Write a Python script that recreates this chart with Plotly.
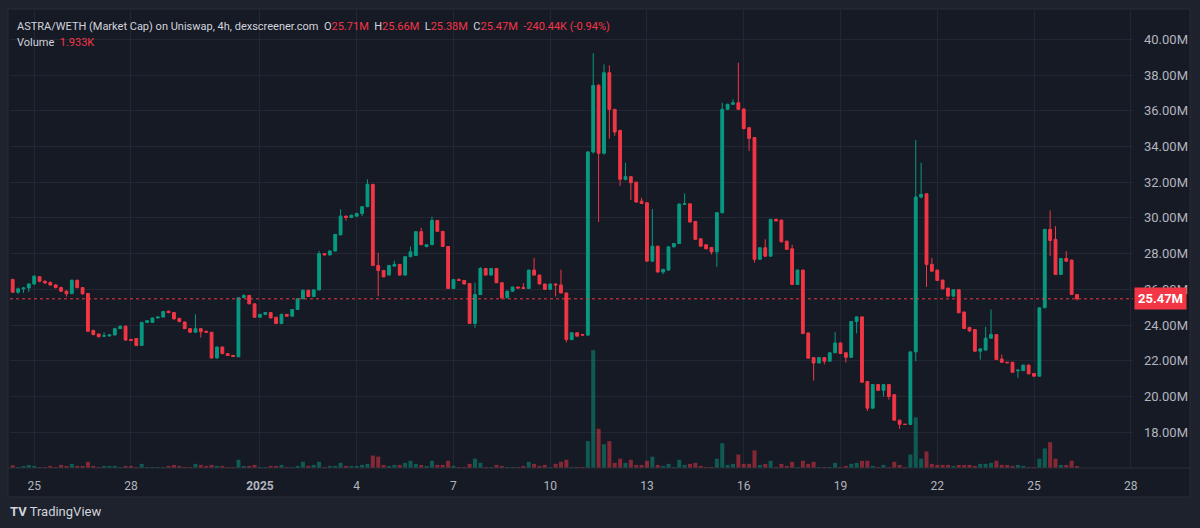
import pandas as pd
import plotly.graph_objects as go

# 4h candles, ASTRA/WETH market cap (millions)
opens = [
    26.55, 25.84, 26.03, 26.08, 26.30, 26.71, 26.45, 26.38, 26.25, 26.10,
    25.90, 25.77, 26.51, 26.10, 25.77, 23.70, 23.50, 23.38, 23.40, 23.45,
    23.80, 23.94, 23.20, 23.25, 22.86, 24.15, 24.15, 24.40, 24.45, 24.78,
    24.70, 24.38, 24.17, 23.80, 23.60, 23.80, 23.65, 23.60, 22.16, 22.77,
    22.40, 22.30, 22.23, 25.55, 25.66, 25.19, 24.44, 24.60, 24.70, 24.44,
    24.09, 24.60, 24.50, 24.87, 25.47, 25.95, 25.60, 25.97, 28.00, 27.93,
    28.15, 29.05, 30.10, 30.02, 30.10, 30.25, 30.63, 31.88, 27.34, 27.06,
    26.80, 27.30, 27.40, 26.80, 27.83, 27.90, 29.23, 28.40, 28.50, 29.86,
    29.25, 28.40, 26.05, 26.55, 26.50, 26.33, 24.09, 25.71, 27.17, 26.80,
    27.17, 26.37, 25.53, 25.90, 26.13, 26.10, 26.05, 27.08, 26.80, 26.30,
    26.00, 26.30, 26.25, 25.80, 23.19, 23.57, 23.47, 23.44, 33.69, 37.42,
    33.62, 38.13, 36.08, 34.90, 32.16, 32.31, 32.00, 30.94, 30.85, 27.58,
    28.42, 26.97, 27.08, 28.38, 28.57, 30.76, 30.79, 29.80, 28.83, 28.50,
    28.35, 28.10, 30.29, 36.08, 36.36, 36.45, 36.10, 35.05, 34.50, 27.68,
    28.33, 27.86, 29.92, 29.88, 28.70, 28.27, 26.27, 27.08, 23.56, 22.18,
    21.88, 22.18, 21.98, 22.45, 23.00, 22.45, 22.20, 24.20, 24.46, 20.84,
    19.35, 20.67, 20.35, 20.67, 20.10, 18.68, 18.45, 18.44, 22.50, 31.17,
    31.35, 27.40, 27.08, 26.52, 26.07, 25.62, 25.98, 24.73, 23.87, 23.75,
    22.54, 22.60, 23.27, 23.47, 22.10, 21.92, 21.92, 21.45, 21.45, 21.76,
    21.29, 21.14, 24.97, 29.36, 28.80, 26.83, 27.73, 27.64, 25.71,
]
highs = [
    26.60, 26.10, 26.12, 26.35, 26.80, 26.74, 26.52, 26.45, 26.30, 26.15,
    25.95, 26.55, 26.55, 26.12, 25.80, 23.75, 23.52, 23.60, 23.48, 23.85,
    24.00, 23.97, 23.22, 23.27, 24.18, 24.27, 24.42, 24.48, 24.80, 24.80,
    24.72, 24.40, 24.20, 23.82, 24.60, 23.82, 23.70, 23.62, 22.80, 22.80,
    22.42, 22.32, 25.56, 25.72, 25.68, 25.21, 24.63, 24.72, 24.72, 24.46,
    24.65, 24.62, 24.90, 25.50, 25.98, 25.97, 26.00, 28.14, 28.02, 28.18,
    29.10, 30.48, 30.12, 30.18, 30.28, 30.66, 32.16, 31.90, 28.05, 27.08,
    27.36, 27.60, 27.42, 27.86, 28.40, 29.26, 29.45, 28.52, 30.07, 29.88,
    29.27, 28.42, 26.58, 26.62, 26.52, 26.35, 26.37, 27.25, 27.19, 27.19,
    27.19, 26.39, 25.92, 26.15, 26.15, 26.35, 27.10, 27.77, 26.82, 26.32,
    26.32, 26.32, 27.10, 25.82, 23.59, 23.59, 23.49, 33.75, 39.22, 37.50,
    38.60, 38.54, 36.10, 34.92, 33.09, 32.35, 32.02, 31.13, 30.87, 30.50,
    28.44, 27.15, 28.40, 28.60, 30.80, 31.37, 30.81, 29.82, 28.85, 28.52,
    28.37, 30.32, 36.45, 36.40, 36.64, 38.69, 36.12, 35.07, 34.52, 28.36,
    28.80, 29.95, 29.95, 29.90, 28.72, 28.50, 27.10, 27.10, 23.58, 22.20,
    22.20, 22.20, 22.47, 23.60, 23.02, 22.47, 24.22, 24.48, 24.48, 20.86,
    20.69, 20.69, 20.69, 20.69, 20.12, 18.70, 18.47, 22.52, 34.36, 33.09,
    31.37, 27.77, 27.10, 26.54, 26.09, 26.00, 26.00, 24.75, 23.89, 23.77,
    22.69, 23.90, 24.87, 23.49, 22.35, 21.94, 21.94, 21.50, 21.78, 21.78,
    21.31, 24.99, 29.38, 30.42, 29.54, 27.75, 28.14, 27.66, 25.73,
]
lows = [
    25.80, 25.75, 25.80, 25.85, 26.25, 26.40, 26.30, 26.20, 26.05, 25.85,
    25.60, 25.72, 26.05, 25.70, 23.60, 23.42, 23.30, 23.33, 23.35, 23.42,
    23.78, 23.12, 23.10, 22.82, 22.84, 24.12, 24.12, 24.37, 24.43, 24.66,
    24.30, 24.15, 23.78, 23.57, 23.58, 23.30, 23.58, 22.12, 22.13, 22.38,
    22.27, 22.22, 22.20, 25.52, 25.17, 24.42, 24.42, 24.58, 24.38, 24.05,
    24.05, 24.47, 24.47, 24.85, 25.45, 25.58, 25.57, 25.95, 27.90, 27.90,
    28.12, 29.03, 29.85, 30.00, 30.08, 30.10, 30.60, 27.30, 25.62, 26.68,
    26.78, 27.28, 26.78, 26.78, 27.80, 27.88, 28.48, 28.35, 28.48, 29.22,
    28.38, 26.02, 26.03, 26.48, 26.28, 24.07, 23.85, 25.69, 26.78, 26.78,
    26.35, 25.45, 25.50, 25.88, 26.05, 26.03, 26.03, 26.78, 26.28, 25.98,
    25.98, 25.60, 25.78, 23.04, 23.15, 23.36, 23.42, 23.40, 33.60, 29.77,
    33.55, 34.44, 34.60, 31.80, 32.10, 31.00, 30.85, 30.78, 27.55, 27.55,
    26.95, 26.85, 27.05, 28.35, 28.55, 30.72, 29.75, 28.78, 28.40, 28.25,
    27.95, 27.26, 30.25, 36.05, 36.33, 36.05, 34.95, 33.75, 27.50, 27.65,
    27.80, 27.84, 29.80, 28.64, 28.22, 26.25, 26.25, 23.51, 22.13, 20.90,
    21.86, 21.80, 21.96, 22.43, 22.39, 21.90, 22.18, 23.53, 20.78, 19.18,
    19.33, 20.33, 20.00, 19.82, 18.66, 18.20, 18.42, 18.42, 21.98, 31.10,
    26.14, 27.00, 26.48, 26.01, 25.60, 25.60, 24.67, 23.79, 23.60, 22.52,
    22.07, 22.58, 23.25, 22.05, 21.90, 21.87, 21.34, 21.05, 21.43, 21.25,
    21.12, 21.12, 24.95, 27.86, 26.81, 26.81, 27.55, 25.69, 25.38,
]
closes = [
    25.84, 26.03, 26.08, 26.30, 26.74, 26.45, 26.36, 26.25, 26.10, 25.90,
    25.75, 26.51, 26.10, 25.75, 23.66, 23.47, 23.35, 23.40, 23.45, 23.80,
    23.93, 23.16, 23.14, 22.86, 24.15, 24.25, 24.40, 24.45, 24.76, 24.70,
    24.35, 24.20, 23.80, 23.60, 23.80, 23.63, 23.60, 22.16, 22.77, 22.40,
    22.30, 22.25, 25.53, 25.66, 25.19, 24.44, 24.60, 24.70, 24.40, 24.09,
    24.60, 24.50, 24.87, 25.47, 25.95, 25.60, 25.97, 28.00, 27.93, 28.15,
    29.08, 30.10, 30.02, 30.15, 30.25, 30.63, 31.88, 27.34, 27.06, 26.70,
    27.34, 27.40, 26.80, 27.83, 28.10, 29.23, 28.50, 28.50, 29.86, 29.25,
    28.40, 26.05, 26.55, 26.50, 26.30, 24.09, 25.71, 27.17, 26.80, 27.17,
    26.37, 25.53, 25.90, 26.13, 26.08, 26.05, 27.08, 26.80, 26.30, 26.00,
    26.30, 26.25, 25.80, 23.19, 23.57, 23.38, 23.44, 33.69, 37.42, 33.62,
    38.13, 36.08, 34.81, 32.16, 32.31, 31.97, 30.89, 30.81, 27.58, 28.42,
    26.97, 27.12, 28.38, 28.57, 30.78, 30.79, 29.77, 28.80, 28.42, 28.27,
    28.10, 30.29, 36.08, 36.36, 36.45, 36.08, 35.00, 34.45, 27.68, 28.33,
    27.86, 29.92, 29.83, 28.66, 28.24, 26.27, 27.08, 23.53, 22.15, 21.88,
    22.18, 21.98, 22.45, 23.00, 22.41, 22.20, 24.20, 24.46, 20.80, 19.35,
    20.67, 20.35, 20.67, 20.00, 18.68, 18.45, 18.44, 22.50, 31.17, 31.32,
    27.40, 27.02, 26.50, 26.03, 25.62, 25.98, 24.69, 23.81, 23.68, 22.54,
    22.67, 23.27, 23.47, 22.07, 21.92, 21.89, 21.36, 21.48, 21.76, 21.27,
    21.14, 24.97, 29.36, 28.74, 26.83, 27.73, 27.58, 25.71, 25.47,
]
# volume (thousands)
volumes = [
    2.7, 1, 2, 3, 2, 1, 1, 2, 1, 3,
    2, 4, 2, 2, 6, 2, 1, 2, 2, 2,
    1, 2, 2, 1, 4, 1, 1, 1, 1, 2,
    3, 2, 1, 1, 4, 3, 2, 3, 2, 2,
    1, 1, 8, 2, 2, 3, 1, 1, 2, 2,
    3, 1, 1, 2, 6, 2, 3, 6, 1, 2,
    2, 5, 2, 2, 2, 3, 4, 12, 11, 3,
    2, 3, 3, 5, 7, 4, 3, 2, 7, 3,
    3, 7, 2, 1, 1, 4, 9, 5, 1, 1,
    3, 2, 1, 1, 1, 2, 6, 4, 2, 3,
    1, 4, 6, 8, 1, 1, 1, 26, 114, 38,
    23, 26, 5, 9, 5, 8, 3, 3, 7, 11,
    3, 2, 4, 1, 8, 3, 4, 5, 2, 1,
    1, 9, 24, 3, 4, 13, 4, 4, 17, 3,
    4, 7, 1, 4, 2, 6, 1, 7, 4, 6,
    1, 1, 1, 5, 1, 2, 4, 5, 7, 7,
    2, 1, 3, 1, 6, 3, 1, 13, 49, 9,
    16, 4, 3, 3, 3, 2, 3, 3, 3, 2,
    4, 4, 5, 7, 3, 3, 2, 3, 2, 1,
    1, 9, 19, 25, 9, 3, 3, 7, 1.933,
]

times = pd.date_range("2024-12-24 08:00", periods=len(closes), freq="4h")

date_ticks = ["2024-12-25", "2024-12-28", "2025-01-01", "2025-01-04", "2025-01-07",
              "2025-01-10", "2025-01-13", "2025-01-16", "2025-01-19", "2025-01-22",
              "2025-01-25", "2025-01-28"]
date_labels = ["25", "28", "<b>2025</b>", "4", "7", "10", "13", "16", "19", "22", "25", "28"]
price_ticks = [18, 20, 22, 24, 26, 28, 30, 32, 34, 36, 38, 40]
last_price = 25.47

UP = "#089981"
DOWN = "#f23645"
BG = "#161a25"
OUTER = "#1e222d"
GRID = "#232733"
TXT = "#b2b5be"
FONT = "Roboto"

vol_colors = ["rgba(8,153,129,0.5)" if c >= o else "rgba(242,54,69,0.5)"
              for o, c in zip(opens, closes)]

fig = go.Figure()

fig.add_trace(go.Bar(
    x=times, y=volumes, yaxis="y2",
    marker=dict(color=vol_colors, line=dict(width=0)),
    width=4 * 3600 * 1000 * 0.75,
    hoverinfo="skip", showlegend=False,
))

fig.add_trace(go.Candlestick(
    x=times, open=opens, high=highs, low=lows, close=closes,
    increasing=dict(line=dict(color=UP, width=1), fillcolor=UP),
    decreasing=dict(line=dict(color=DOWN, width=1), fillcolor=DOWN),
    whiskerwidth=0, showlegend=False,
))

# panel behind chart and price scale
fig.add_shape(type="rect", xref="paper", yref="paper",
              x0=-0.0018, x1=1.0508, y0=-0.0633, y1=1.0022,
              fillcolor=BG, line=dict(color="#2a2e39", width=1), layer="below")
fig.add_shape(type="line", xref="paper", yref="paper",
              x0=-0.0018, x1=1.0508, y0=0, y1=0,
              line=dict(color="#2a2e39", width=1))

# last price line + label
fig.add_shape(type="line", xref="paper", yref="y", x0=0, x1=1,
              y0=last_price, y1=last_price,
              line=dict(color=DOWN, width=1, dash="dot"))
fig.add_annotation(x=1, y=last_price, xref="paper", yref="y",
                   xanchor="left", yanchor="middle", xshift=1,
                   text="<b>25.47M</b>", showarrow=False,
                   font=dict(family=FONT, size=13, color="white"),
                   bgcolor=DOWN, borderpad=3)

red = '<span style="color:#f23645">'
gap = "&nbsp; "
header = ("ASTRA/WETH (Market Cap) on Uniswap, 4h, dexscreener.com" + gap
          + f"O{red}25.71M</span>{gap}H{red}25.66M</span>{gap}L{red}25.38M</span>{gap}"
          + f"C{red}25.47M</span>{gap}{red}-240.44K (-0.94%)</span>")
fig.add_annotation(x=0.0045, y=0.963, xref="paper", yref="paper",
                   xanchor="left", yanchor="middle", text=header, showarrow=False,
                   font=dict(family=FONT, size=11, color="#d1d4dc"))
fig.add_annotation(x=0.0045, y=0.93, xref="paper", yref="paper",
                   xanchor="left", yanchor="middle",
                   text=f"Volume&nbsp; {red}1.933K</span>", showarrow=False,
                   font=dict(family=FONT, size=11, color="#d1d4dc"))
fig.add_annotation(x=-0.002, y=-0.096, xref="paper", yref="paper",
                   xanchor="left", yanchor="middle",
                   text="<b>TV</b> TradingView", showarrow=False,
                   font=dict(family=FONT, size=13, color="#d1d4dc"))

fig.update_layout(
    width=1200, height=528,
    margin=dict(l=10, r=67, t=10, b=60),
    paper_bgcolor=OUTER, plot_bgcolor=BG,
    font=dict(family=FONT, size=12, color=TXT),
    showlegend=False,
    xaxis=dict(
        type="date", range=["2024-12-24 06:00", "2025-01-28 01:40"],
        tickvals=date_ticks, ticktext=date_labels,
        showgrid=True, gridcolor=GRID, gridwidth=1,
        zeroline=False, showline=False, ticks="",
        ticklabelstandoff=9,
        tickfont=dict(family=FONT, size=12, color=TXT),
        rangeslider=dict(visible=False), fixedrange=True,
    ),
    yaxis=dict(
        side="right", range=[16.0, 41.64],
        tickvals=price_ticks, ticktext=[f"{v:.2f}M" for v in price_ticks],
        showgrid=True, gridcolor=GRID, gridwidth=1,
        zeroline=False, showline=False, ticks="",
        ticklabelstandoff=10,
        tickfont=dict(family=FONT, size=13, color=TXT),
        fixedrange=True,
    ),
    yaxis2=dict(
        overlaying="y", range=[0, 443], visible=False, fixedrange=True,
    ),
    boxgap=0.25,
)

fig.write_html(
    "out.html",
    config={"displayModeBar": False},
    post_script="document.body.style.margin='0';document.body.style.background='#1e222d';",
)
